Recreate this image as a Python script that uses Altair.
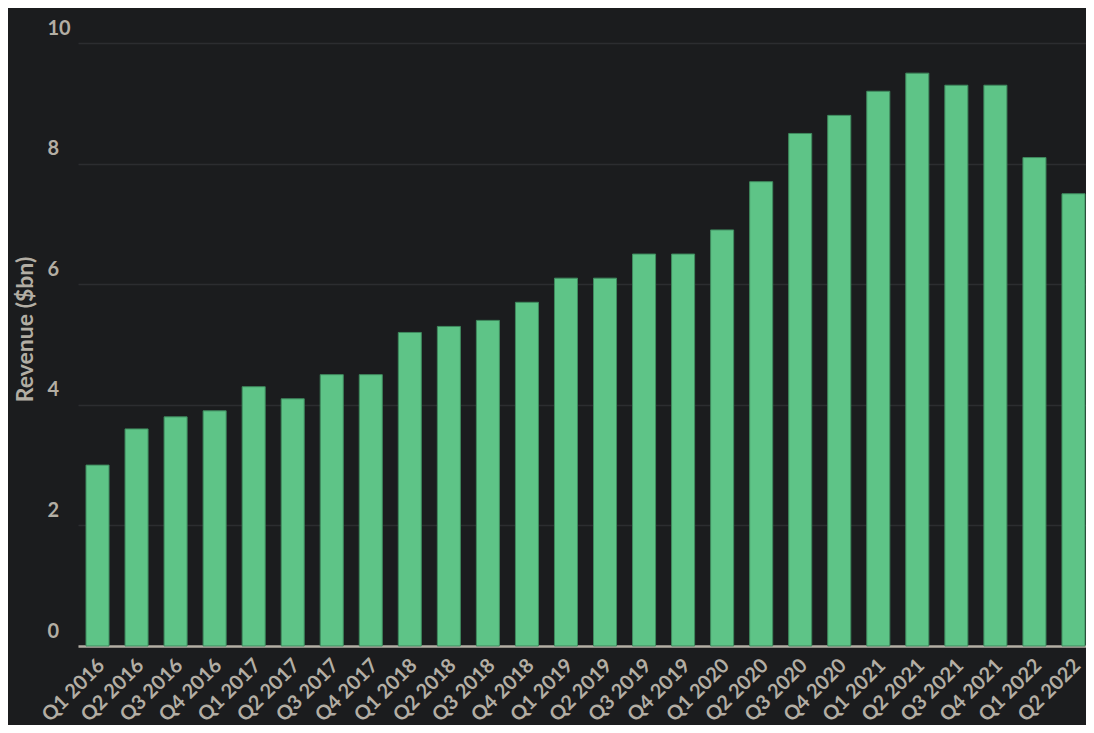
import altair as alt
import pandas as pd

quarters = ["Q1 2016","Q2 2016","Q3 2016","Q4 2016","Q1 2017","Q2 2017","Q3 2017","Q4 2017",
            "Q1 2018","Q2 2018","Q3 2018","Q4 2018","Q1 2019","Q2 2019","Q3 2019","Q4 2019",
            "Q1 2020","Q2 2020","Q3 2020","Q4 2020","Q1 2021","Q2 2021","Q3 2021","Q4 2021",
            "Q1 2022","Q2 2022"]
revenue = [3.0,3.6,3.8,3.9,4.3,4.1,4.5,4.5,
           5.2,5.3,5.4,5.7,6.1,6.1,6.5,6.5,
           6.9,7.7,8.5,8.8,9.2,9.5,9.3,9.3,
           8.1,7.5]
y_ticks = [0, 2, 4, 6, 8, 10]

df = pd.DataFrame({"quarter": quarters, "revenue": revenue})

BG = "#1b1c1e"
TXT = "#b3aea4"
FONT = "Lato"

bars = alt.Chart(df).mark_bar(color="#5ec487", stroke="#3f8a5e", strokeWidth=1).encode(
    x=alt.X("quarter:N", sort=quarters, title=None,
            scale=alt.Scale(range=[31, 1046], paddingInner=0.41, paddingOuter=0.205),
            axis=alt.Axis(labelAngle=315, labelAlign="right", labelBaseline="top",
                          labelPadding=9, labelOffset=-3, ticks=False, domain=True,
                          domainColor="#b3aea4", domainWidth=2.5, labelColor=TXT,
                          labelFont=FONT, labelFontSize=20,
                          labelFontWeight="bold", grid=False, labelBound=False,
                          labelOverlap=False)),
    y=alt.Y("revenue:Q", title="Revenue ($bn)",
            scale=alt.Scale(domain=[0, 10], nice=False),
            axis=alt.Axis(values=y_ticks, ticks=False, domain=False, grid=True,
                          gridColor="#2c2d30", gridWidth=1.5,
                          labelAlign="left", labelBaseline="alphabetic", labelPadding=0,
                          labelOffset=-9, labelColor=TXT, labelFont=FONT, labelFontSize=20,
                          labelFontWeight="bold",
                          titleColor=TXT, titleFont=FONT, titleFontSize=23, titleFontWeight="bold",
                          titleAngle=270, titleAlign="center", titleBaseline="middle",
                          titleX=-22, titleY=286)),
)

chart = bars.properties(
    width=1039, height=603,
    background=BG,
    padding={"left": 39, "top": 35, "right": 0, "bottom": 79},
    autosize=alt.AutoSizeParams(type="none"),
).configure_view(stroke=None)

chart.save("out.html", embed_options={"renderer": "svg", "actions": False})
